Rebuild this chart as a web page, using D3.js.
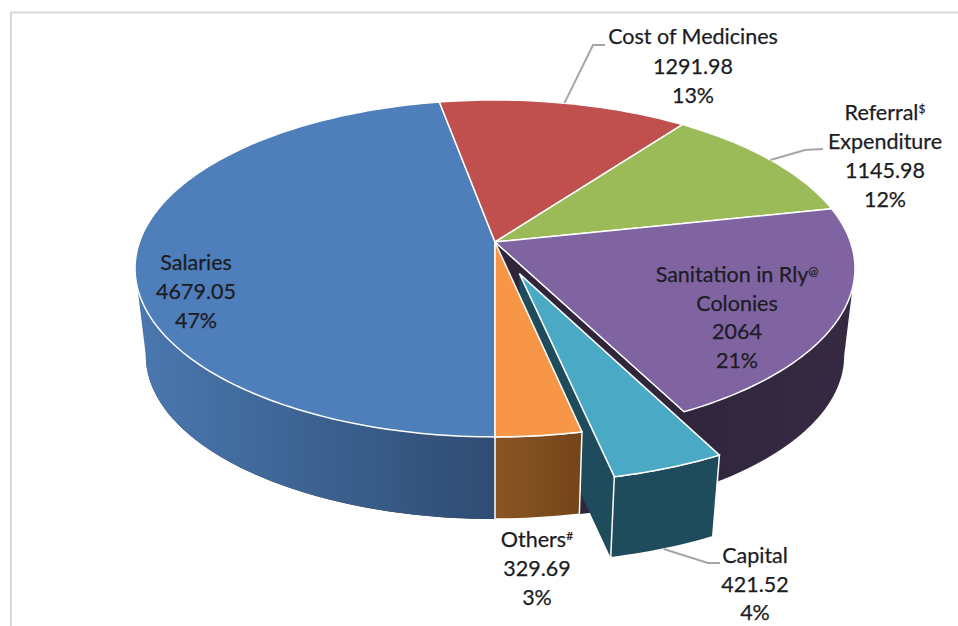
<!DOCTYPE html>
<html>
<head>
<meta charset="utf-8">
<script src="https://cdn.jsdelivr.net/npm/d3@7"></script>
<style>
html, body { margin: 0; padding: 0; background: #fff; }
svg { display: block; }
text { font-family: Lato, sans-serif; font-size: 21.5px; fill: #1c1c24; stroke: #1c1c24; stroke-width: 0.25px; text-anchor: middle; }
</style>
</head>
<body>
<div id="container"></div>
<script>
// pie data, in drawing order (clockwise from the bottom)
var categories = ["Salaries", "Cost of Medicines", "Referral", "Sanitation", "Capital", "Others"];
var values = [4679.05, 1291.98, 1145.98, 2064, 421.52, 329.69];
var valueLabels = ["4679.05", "1291.98", "1145.98", "2064", "421.52", "329.69"];
var percents = ["47%", "13%", "12%", "21%", "4%", "3%"];
var nameLines = [["Salaries"], ["Cost of Medicines"], ["Referral|$", "Expenditure"], ["Sanitation in Rly|@", "Colonies"], ["Capital"], ["Others|#"]];

var topColors = ["#4f7fbb", "#c0504d", "#9bbb59", "#8064a2", "#4aa9c4", "#f79646"];
var wallColors = [["#4a78b0", "#2f4c72"], null, null, ["#352a42", "#30263c"], ["#1f4c5c", "#1f4c5c"], ["#8a5524", "#744518"]];

// label anchor: centre x, first baseline, line step
var labelPos = [[196, 270, 29], [693, 44, 29.5], [885, 120, 29], [737, 282, 28.5], [755, 563, 28.5], [537, 547, 29]];
// leader elbows [x, y], leader starts on the slice rim
var leaders = { 1: [[593, 45], [605, 45]], 2: [[805, 150], [823, 149]], 4: [[708, 563], [720, 563]] };

var w = 958, h = 626;
var cx = 495, cy = 242;
var R = 355.5, A = 164.3, K = -0.157;   // perspective of the top face
var S = 0.97, D = 88;                   // bottom face relative to top
var EXPLODE = 0.2;
var SIDE_LEFT = 261 * Math.PI / 180, SIDE_RIGHT = 99 * Math.PI / 180; // where the rim silhouette turns

var svg = d3.select("#container").append("svg").attr("width", w).attr("height", h);

// page frame
svg.append("path").attr("d", "M11,626V12.5H958").attr("fill", "none").attr("stroke", "#d9d9d9").attr("stroke-width", 2);

var pie = d3.pie().sort(null).startAngle(Math.PI).endAngle(3 * Math.PI);
var arcs = pie(values);

// unit disc -> screen
function project(u, v, bottom) {
  var d = 1 + K * v;
  var x = R * u / d, y = A * v / d;
  if (bottom) { x = x * S; y = y * S + D; }
  return [cx + x, cy + y];
}
function rim(a, off, bottom) {
  return project(Math.sin(a) + off[0], -Math.cos(a) + off[1], bottom);
}
function rimPts(a0, a1, off, bottom) {
  var n = Math.max(2, Math.ceil(Math.abs(a1 - a0) / 0.02));
  return d3.range(n + 1).map(function(i) { return rim(a0 + (a1 - a0) * i / n, off, bottom); });
}
var line = d3.line();
function offsetOf(i) {
  if (i !== 4) return [0, 0];
  var m = (arcs[i].startAngle + arcs[i].endAngle) / 2;
  return [EXPLODE * Math.sin(m), -EXPLODE * Math.cos(m)];
}
function topPath(i) {
  var a = arcs[i], o = offsetOf(i);
  return line([project(o[0], o[1], false)].concat(rimPts(a.startAngle, a.endAngle, o, false))) + "Z";
}
function wallPath(i, a0, a1) {
  var o = offsetOf(i);
  return line(rimPts(a0, a1, o, false).concat(rimPts(a1, a0, o, true))) + "Z";
}
function radialPath(i, a) {
  var o = offsetOf(i);
  return line([project(o[0], o[1], false), rim(a, o, false), rim(a, o, true), project(o[0], o[1], true)]) + "Z";
}

// side gradients
var defs = svg.append("defs");
wallColors.forEach(function(c, i) {
  if (!c) return;
  var xs = rimPts(arcs[i].startAngle, arcs[i].endAngle, offsetOf(i), false).map(function(p) { return p[0]; });
  var g = defs.append("linearGradient").attr("id", "wall" + i).attr("gradientUnits", "userSpaceOnUse")
    .attr("x1", i === 0 ? d3.min(xs) : d3.max(xs)).attr("x2", i === 0 ? cx : d3.min(xs)).attr("y1", 0).attr("y2", 0);
  g.append("stop").attr("offset", 0).attr("stop-color", i === 5 ? c[1] : c[0]);
  g.append("stop").attr("offset", 1).attr("stop-color", i === 5 ? c[0] : c[1]);
});

var chart = svg.append("g");
var edge = "#fff";

// purple: cut face and rim
chart.append("path").attr("d", radialPath(3, arcs[3].endAngle)).attr("fill", wallColors[3][1]).attr("stroke", edge).attr("stroke-width", 1);
chart.append("path").attr("d", wallPath(3, SIDE_RIGHT, arcs[3].endAngle)).attr("fill", "url(#wall3)");
// salaries rim
chart.append("path").attr("d", wallPath(0, arcs[0].startAngle, SIDE_LEFT)).attr("fill", "url(#wall0)");
// capital left cut face sits under the Others slice
chart.append("path").attr("d", radialPath(4, arcs[4].endAngle)).attr("fill", wallColors[4][0]);
// others rim
chart.append("path").attr("d", wallPath(5, arcs[5].startAngle, arcs[5].endAngle)).attr("fill", "url(#wall5)").attr("stroke", edge).attr("stroke-width", 1.5);

// top faces except capital
chart.selectAll("path.top").data([0, 1, 2, 3, 5]).enter().append("path")
  .attr("class", "top")
  .attr("d", topPath)
  .attr("fill", function(i) { return topColors[i]; })
  .attr("stroke", edge).attr("stroke-width", 1.5).attr("stroke-linejoin", "round");

// capital outer rim and top
chart.append("path").attr("d", wallPath(4, arcs[4].startAngle, arcs[4].endAngle)).attr("fill", "url(#wall4)").attr("stroke", edge).attr("stroke-width", 1.5);
chart.append("path").attr("d", topPath(4)).attr("fill", topColors[4]).attr("stroke", edge).attr("stroke-width", 1.5).attr("stroke-linejoin", "round");

// leader lines
Object.keys(leaders).forEach(function(k) {
  var i = +k, m = (arcs[i].startAngle + arcs[i].endAngle) / 2;
  var start = rim(m, offsetOf(i), i === 4);
  svg.append("path").attr("d", line([start].concat(leaders[k])))
    .attr("fill", "none").attr("stroke", "#a6a6a6").attr("stroke-width", 2);
});

// data labels
categories.forEach(function(c, i) {
  var pos = labelPos[i];
  var rows = nameLines[i].concat([valueLabels[i], percents[i]]);
  var t = svg.append("text").attr("class", "lbl").attr("data-name", c);
  rows.forEach(function(r, j) {
    var parts = r.split("|");
    t.append("tspan").attr("x", pos[0]).attr("y", pos[1] + j * pos[2]).text(parts[0]);
    if (parts[1]) {
      t.append("tspan").attr("dy", -7).style("font-size", "12px").text(parts[1]);
    }
  });
});
</script>
</body>
</html>
